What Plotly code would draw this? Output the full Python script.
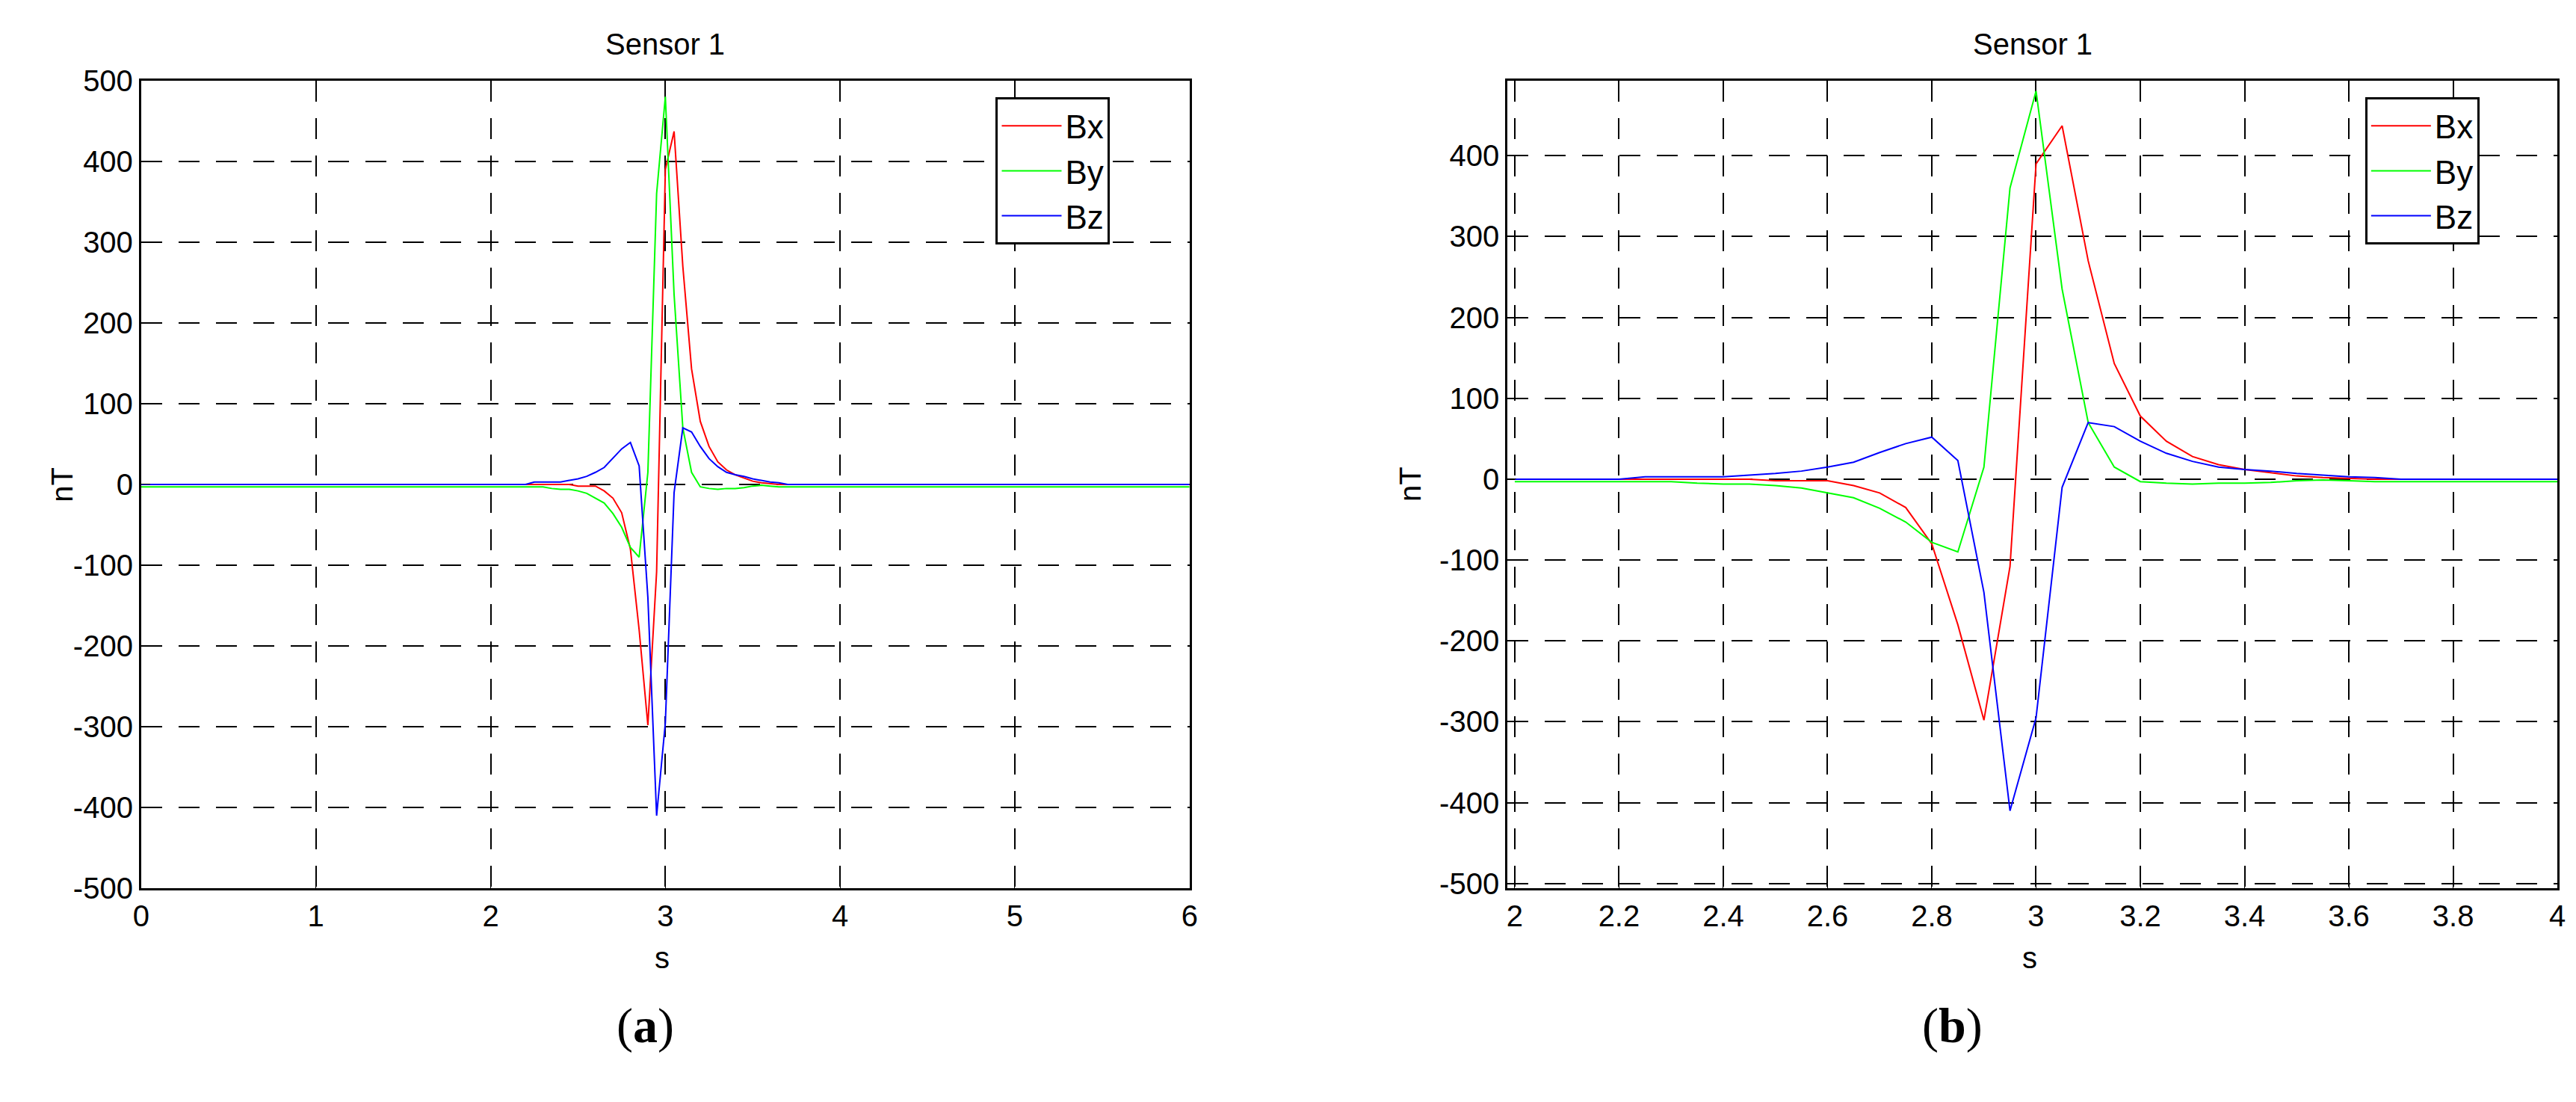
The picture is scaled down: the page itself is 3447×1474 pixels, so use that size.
import plotly.graph_objects as go

# time samples of the active window (s)
t_win = [2.00, 2.05, 2.10, 2.15, 2.20, 2.25, 2.30, 2.35, 2.40, 2.45, 2.50, 2.55, 2.60, 2.65, 2.70, 2.75,
         2.80, 2.85, 2.90, 2.95, 3.00, 3.05, 3.10, 3.15, 3.20, 3.25, 3.30, 3.35, 3.40, 3.45, 3.50,
         3.55, 3.60, 3.65, 3.70, 3.75, 3.80, 3.85, 3.90, 3.95, 4.00]
bx_win = [0, 0, 0, 0, 0, 0, 0, 0, 0, 0, -2, -2, -2, -8, -17, -35,
          -80, -180, -298, -108, 390, 437, 270, 143, 78, 47, 28, 18, 12, 8, 4,
          2, 1, 0, 0, 0, 0, 0, 0, 0, 0]
by_win = [-3, -3, -3, -3, -3, -3, -3, -5, -6, -6, -8, -11, -17, -23, -36, -53,
          -78, -90, 15, 360, 480, 235, 70, 15, -3, -5, -6, -5, -5, -4, -2,
          -1, -2, -3, -3, -3, -3, -3, -3, -3, -3]
bz_win = [0, 0, 0, 0, 0, 3, 3, 3, 3, 5, 7, 10, 15, 21, 33, 44,
          52, 23, -140, -410, -295, -10, 70, 65, 47, 32, 22, 15, 12, 10, 7,
          5, 3, 2, 0, 0, 0, 0, 0, 0, 0]
# baseline samples outside the window
t_before = [0.0, 1.0, 1.95]
t_after = [4.05, 5.0, 6.0]
bx_base, by_base, bz_base = 0, -3, 0

t_full = t_before + t_win + t_after
bx_full = [bx_base] * 3 + bx_win + [bx_base] * 3
by_full = [by_base] * 3 + by_win + [by_base] * 3
bz_full = [bz_base] * 3 + bz_win + [bz_base] * 3

names = ["Bx", "By", "Bz"]
colors = ["#ff0000", "#00ff00", "#0000ff"]

ya_vals = [-500, -400, -300, -200, -100, 0, 100, 200, 300, 400, 500]
ya_text = ["-500", "-400", "-300", "-200", "-100", "0", "100", "200", "300", "400", "500"]
yb_vals = ya_vals[:-1]
yb_text = ya_text[:-1]
xa_vals = [0, 1, 2, 3, 4, 5, 6]
xb_vals = [2, 2.2, 2.4, 2.6, 2.8, 3, 3.2, 3.4, 3.6, 3.8, 4]
xb_text = ["2", "2.2", "2.4", "2.6", "2.8", "3", "3.2", "3.4", "3.6", "3.8", "4"]

fig = go.Figure()
for i, (n, c) in enumerate(zip(names, colors)):
    ys_full = [bx_full, by_full, bz_full][i]
    ys_win = [bx_win, by_win, bz_win][i]
    fig.add_trace(go.Scatter(x=t_full, y=ys_full, mode="lines", name=n,
                             line=dict(color=c, width=2), xaxis="x", yaxis="y", legend="legend"))
    fig.add_trace(go.Scatter(x=t_win, y=ys_win, mode="lines", name=n,
                             line=dict(color=c, width=2), xaxis="x2", yaxis="y2", legend="legend2"))

tickfont = dict(family="Liberation Sans, Arial", size=40, color="black")
axcommon = dict(showline=True, linecolor="black", linewidth=3, mirror=True, ticks="inside",
                ticklen=12, tickcolor="black", showgrid=True, gridcolor="black", griddash="28px,22px",
                gridwidth=2, zeroline=False, tickfont=tickfont)

fig.update_layout(
    width=3447, height=1474, margin=dict(l=0, r=0, t=0, b=0),
    paper_bgcolor="white", plot_bgcolor="white",
    xaxis=dict(domain=[0.0496, 0.4592], range=[0, 6], tickvals=xa_vals, anchor="y", **axcommon),
    yaxis=dict(domain=[0.19, 0.9457], range=[-500, 500], tickvals=ya_vals, ticktext=ya_text, anchor="x", **axcommon),
    xaxis2=dict(domain=[0.5834, 0.9936], range=[1.986, 4.0], tickvals=xb_vals, ticktext=xb_text, anchor="y2", **axcommon),
    yaxis2=dict(domain=[0.19, 0.9457], range=[-506, 493], tickvals=yb_vals, ticktext=yb_text, anchor="x2", **axcommon),
    legend=dict(x=0.3835, y=0.930, xanchor="left", yanchor="top", bordercolor="black", borderwidth=3,
                bgcolor="white", font=dict(family="Liberation Sans, Arial", size=44, color="black"),
                itemwidth=80, tracegroupgap=0),
    legend2=dict(x=0.9185, y=0.930, xanchor="left", yanchor="top", bordercolor="black", borderwidth=3,
                 bgcolor="white", font=dict(family="Liberation Sans, Arial", size=44, color="black"),
                 itemwidth=80, tracegroupgap=0),
    showlegend=True,
)

lab = dict(family="Liberation Sans, Arial", size=40, color="black")
ann = [
    dict(text="Sensor 1", x=877, y=30),
    dict(text="Sensor 1", x=2718, y=30),
    dict(text="s", x=873, y=1290),
    dict(text="s", x=2714, y=1290),
]
for a in ann:
    fig.add_annotation(text=a["text"], x=a["x"] / 3447, y=1 - a["y"] / 1474, xref="paper", yref="paper",
                       showarrow=False, font=lab, xanchor="center", yanchor="middle")
fig.add_annotation(text="nT", x=40 / 3447, y=1 - 637 / 1474, xref="paper", yref="paper", showarrow=False,
                   font=lab, textangle=-90)
fig.add_annotation(text="nT", x=1880 / 3447, y=1 - 637 / 1474, xref="paper", yref="paper", showarrow=False,
                   font=lab, textangle=-90)
serif = dict(family="Liberation Serif, Times New Roman", size=66, color="black")
fig.add_annotation(text="(<b>a</b>)", x=809 / 3447, y=1 - 1423 / 1474, xref="paper", yref="paper",
                   showarrow=False, font=serif)
fig.add_annotation(text="(<b>b</b>)", x=2653 / 3447, y=1 - 1423 / 1474, xref="paper", yref="paper",
                   showarrow=False, font=serif)

fig.write_html("out.html")
